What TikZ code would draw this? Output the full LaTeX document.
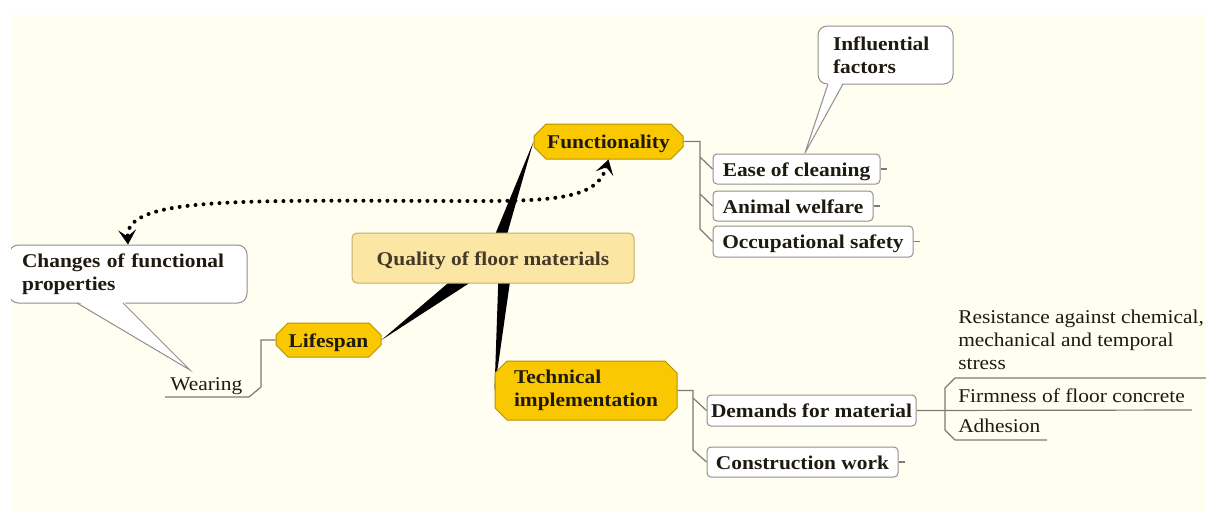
\documentclass[tikz,border=0pt]{standalone}
\usepackage{fontspec}
\setmainfont{Liberation Serif}[FakeStretch=1.1]
\usetikzlibrary{shapes.misc,arrows.meta,calc}
\definecolor{bgc}{HTML}{FFFEF0}
\definecolor{rootfill}{HTML}{FCE6A4}
\definecolor{rootdraw}{HTML}{C9AC67}
\definecolor{roottext}{HTML}{45392A}
\definecolor{mainfill}{HTML}{F9C800}
\definecolor{maindraw}{HTML}{B59200}
\definecolor{linegray}{HTML}{7A7A7A}
\definecolor{boxdraw}{HTML}{8F8F8F}
\definecolor{textdark}{HTML}{1E1A10}
\pgfdeclarelayer{bglayer}
\pgfdeclarelayer{wedgelayer}
\pgfsetlayers{bglayer,wedgelayer,main}
\begin{document}
\begin{tikzpicture}[x=0.75pt,y=-0.75pt,
  font=\fontsize{14.6pt}{17.25pt}\selectfont,
  oneline/.style={text height=10.5pt, text depth=0pt},
  rootbox/.style={rectangle, rounded corners=3.75pt, fill=rootfill, draw=rootdraw, line width=0.75pt,
    font=\fontsize{14.6pt}{17.25pt}\selectfont\bfseries, text=roottext, inner sep=0pt, oneline,
    minimum width=211.5pt, minimum height=37.5pt},
  mainbr/.style={chamfered rectangle, chamfered rectangle xsep=4.5pt, chamfered rectangle ysep=4.5pt,
    fill=mainfill, draw=maindraw, line width=0.75pt,
    font=\fontsize{14.6pt}{17.25pt}\selectfont\bfseries, text=textdark, inner sep=0pt, align=left},
  childbox/.style={rectangle, rounded corners=3pt, fill=white, draw=boxdraw, line width=0.75pt,
    font=\fontsize{14.6pt}{17.25pt}\selectfont\bfseries, text=textdark, inner sep=0pt, oneline},
  callout/.style={rectangle, rounded corners=7pt, fill=white, draw=boxdraw, line width=0.75pt,
    font=\fontsize{14.6pt}{17.25pt}\selectfont\bfseries, text=textdark, inner ysep=0pt, align=left},
  conn/.style={draw=linegray, line width=0.9pt},
  ptr/.style={draw=boxdraw, line width=0.75pt},
  leaf/.style={inner sep=0pt, anchor=base west, align=left, text=textdark},
  dotarrow/.style={line width=3pt, dash pattern=on 0pt off 6pt, line cap=round,
    {Stealth[length=11pt,width=13.5pt,inset=5pt]}-{Stealth[length=11pt,width=13.5pt,inset=5pt]}}
]
\useasboundingbox (0,0) rectangle (1206,512);
\begin{pgfonlayer}{bglayer}
  \fill[bgc] (11,15) rectangle (1206,512);
\end{pgfonlayer}

% main nodes
\node[rootbox] (root) at (493,258) {Quality of floor materials};
\node[mainbr, oneline, minimum width=111.75pt, minimum height=26.25pt] (func) at (608.5,141.5) {Functionality};
\node[mainbr, oneline, minimum width=78.75pt, minimum height=25.5pt] (life) at (328.5,340) {Lifespan};
\node[mainbr, minimum width=136.5pt, minimum height=44.25pt] (tech) at (586,390.5) {Technical\\implementation};

% children
\node[childbox, minimum width=125.25pt, minimum height=22.5pt] (ease) at (796.5,169) {Ease of cleaning};
\node[childbox, minimum width=120pt, minimum height=22.5pt] (animal) at (793,206) {Animal welfare};
\node[childbox, minimum width=150pt, minimum height=23.25pt] (occ) at (813,241.5) {Occupational safety};
\node[childbox, minimum width=156.75pt, minimum height=23.25pt] (dem) at (811.5,410.5) {Demands for material};
\node[childbox, minimum width=143.25pt, minimum height=22.5pt] (con) at (802.5,462) {Construction work};

% callouts
\node[callout, text width=78.75pt, inner xsep=11.25pt, minimum height=43.5pt] (infl) at (885.5,55) {Influential\\factors};
\node[callout, text width=159pt, inner xsep=9.75pt, minimum height=43.5pt] (chg) at (128,274) {Changes of functional\\properties};
\fill[white] (0,235) rectangle (11,312);

% leaves
\node[leaf] (wear) at (170,390) {Wearing};
\node[leaf] (res) at (958,369) {Resistance against chemical,\\mechanical and temporal\\stress};
\node[leaf] (firm) at (958,402) {Firmness of floor concrete};
\node[leaf] (adh) at (958,432) {Adhesion};

% wedges
\begin{pgfonlayer}{wedgelayer}
  \coordinate (wf) at ($(root.center)+(0,0)$);
  \coordinate (wt) at ($(root.center)+(13,2)$);
  \coordinate (wl) at ($(root.center)+(-7,4)$);
  \fill (func.west) -- ($(wf)!5.25pt!90:(func.west)$) -- ($(wf)!5.25pt!-90:(func.west)$) -- cycle;
  \fill (tech.west) -- ($(wt)!5.25pt!90:(tech.west)$) -- ($(wt)!5.25pt!-90:(tech.west)$) -- cycle;
  \fill (life.east) -- ($(wl)!6.5pt!90:(life.east)$) -- ($(wl)!6.5pt!-90:(life.east)$) -- cycle;
\end{pgfonlayer}

% connectors functionality
\draw[conn] (func.east) -| (700,229) -- (occ.west);
\draw[conn] (700,157) -- (ease.west);
\draw[conn] (700,194) -- (animal.west);
\draw[conn] (ease.east) -- ++(6,0);
\draw[conn] (animal.east) -- ++(6,0);
\draw[conn] (occ.east) -- ++(6,0);

% connectors technical
\draw[conn] (tech.east) -| (693,450) -- (con.west);
\draw[conn] (693,398) -- (dem.west);
\draw[conn] (con.east) -- ++(6,0);
\draw[conn] (dem.east) -- (1192,410);
\coordinate (resend) at (1206,378);
\coordinate (adhend) at (1047,440);
\draw[conn] (945,410) -- (945,388) -- (955,378) -- (resend);
\draw[conn] (945,410) -- (945,430) -- (955,440) -- (adhend);

% connector lifespan
\coordinate (wearend) at (165,397);
\draw[conn] (life.west) -| (261,387) -- (249,397) -- (wearend);

% callout pointers
\fill[white] (828,82) -- (805,153) -- (843,82) -- cycle;
\draw[ptr] (828,84) -- (805,153) -- (843,84);
\fill[white] (77,301) -- (190,370) -- (123,301) -- cycle;
\draw[ptr] (77,303) -- (190,370) -- (123,303);

% dotted relation
\draw[dotarrow] (func.south) .. controls (598,197) and (560,201) .. (480,201)
  .. controls (250,201) and (125,195) .. (chg.north);
\end{tikzpicture}
\end{document}
